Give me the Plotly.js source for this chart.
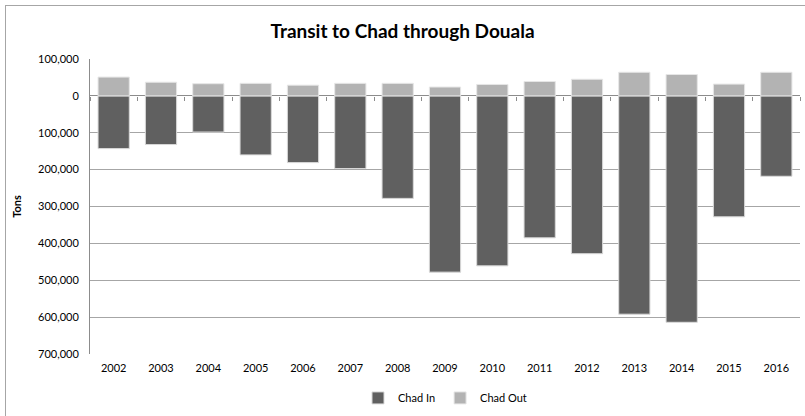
<!DOCTYPE html>
<html>
<head>
<meta charset="utf-8">
<script src="https://cdn.plot.ly/plotly-3.0.1.min.js"></script>
<style>
html,body{margin:0;padding:0;background:#fff;overflow:hidden;width:805px;height:416px;}
#frame{position:absolute;left:5px;top:5px;width:820px;height:430px;border:1px solid #a6a6a6;box-sizing:border-box;}
#chart{position:absolute;left:0;top:0;width:805px;height:416px;}
</style>
</head>
<body>
<div id="frame"></div>
<div id="chart"></div>
<script>
const years = ['2002','2003','2004','2005','2006','2007','2008','2009','2010','2011','2012','2013','2014','2015','2016'];
const chadIn = [143000,132000,98000,160000,181000,197000,278000,478000,461000,385000,428000,592000,614000,328000,218000];
const chadOut = [51000,37000,33000,34000,29000,34000,34000,24000,31000,39000,45000,64000,58000,32000,64000];
const yTickVals = [100000,0,-100000,-200000,-300000,-400000,-500000,-600000,-700000];
const yTickText = ['100,000','0','100,000','200,000','300,000','400,000','500,000','600,000','700,000'];

const font = 'Lato, "Open Sans", sans-serif';
const xRange = [-0.5, years.length - 0.5];
const traces = [
  {type:'bar', name:'Chad In', x:years, y:chadIn.map(v=>-v), width:0.66,
   marker:{color:'#606060', line:{color:'#d9d9d9', width:1}}},
  {type:'bar', name:'Chad Out', x:years, y:chadOut, width:0.66,
   marker:{color:'#b3b3b3', line:{color:'#e6e6e6', width:1}}},
  // invisible helper so the zero-line category tick axis is drawn
  {type:'scatter', mode:'markers', x:years, y:chadOut, xaxis:'x2', yaxis:'y',
   marker:{opacity:0}, showlegend:false, hoverinfo:'skip'}
];
const layout = {
  width:805, height:416,
  margin:{l:90, r:5, t:59, b:61},
  paper_bgcolor:'rgba(0,0,0,0)', plot_bgcolor:'#fff',
  barmode:'relative', bargap:0.34,
  font:{family:font, size:11, color:'#000'},
  title:{text:'<b>Transit to Chad through Douala</b>', font:{family:font, size:19, color:'#000'}, x:0.5, xanchor:'center', y:0.925, yanchor:'middle'},
  xaxis:{type:'category', range:xRange, showgrid:false, zeroline:false, showline:false, ticks:'', tickfont:{size:11}, ticklabelstandoff:6},
  xaxis2:{type:'category', range:xRange, overlaying:'x', anchor:'free', position:0.875, side:'bottom',
          showline:false, showgrid:false, zeroline:false, showticklabels:false,
          ticks:'outside', tickson:'boundaries', ticklen:4, tickcolor:'#8c8c8c', tickwidth:1},
  yaxis:{range:[-700000,100000], tickvals:yTickVals, ticktext:yTickText, showgrid:true, gridcolor:'#a6a6a6', gridwidth:1,
         zeroline:true, zerolinecolor:'#8c8c8c', zerolinewidth:1, showline:true, linecolor:'#8c8c8c', linewidth:1,
         tickfont:{size:11}, ticklabelstandoff:8,
         title:{text:'<b>Tons</b>', font:{size:11}, standoff:14}},
  legend:{orientation:'h', x:0.5, xanchor:'center', y:-0.145, yanchor:'middle', font:{size:11}, itemwidth:30, tracegroupgap:0},
  showlegend:true
};
Plotly.newPlot('chart', traces, layout, {displayModeBar:false, staticPlot:true});
</script>
</body>
</html>
